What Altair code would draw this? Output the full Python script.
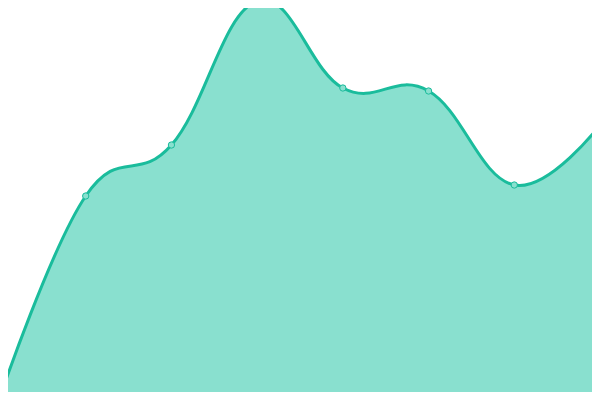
import altair as alt
import pandas as pd

# data (percent of full height)
points = [0, 1, 2, 3, 4, 5, 6, 7]
values = [0.75, 51, 63.75, 99.75, 78, 77.25, 53.75, 68.75]

df = pd.DataFrame({"i": points, "v": values})

LINE = "#1abc9c"
FILL = "#89e0cf"

xs = alt.Scale(domain=[0.0933, 6.9067], nice=False, zero=False)
ys = alt.Scale(domain=[2, 98], nice=False, zero=False)

base = alt.Chart(df).encode(
    x=alt.X("i:Q", scale=xs, axis=None),
    y=alt.Y("v:Q", scale=ys, axis=None),
)

area = base.mark_area(
    interpolate="cardinal", tension=-0.2, color=FILL, opacity=1,
    line={"color": LINE, "strokeWidth": 3},
)
dots = base.mark_point(
    filled=True, shape="circle", size=40, fill=FILL, stroke=LINE,
    strokeWidth=1, opacity=1,
)

chart = (area + dots).properties(
    width=584, height=384, padding=0, autosize="none", background="white"
).configure_view(stroke=None)

chart.save("out.html", embed_options={"renderer": "svg", "actions": False})
